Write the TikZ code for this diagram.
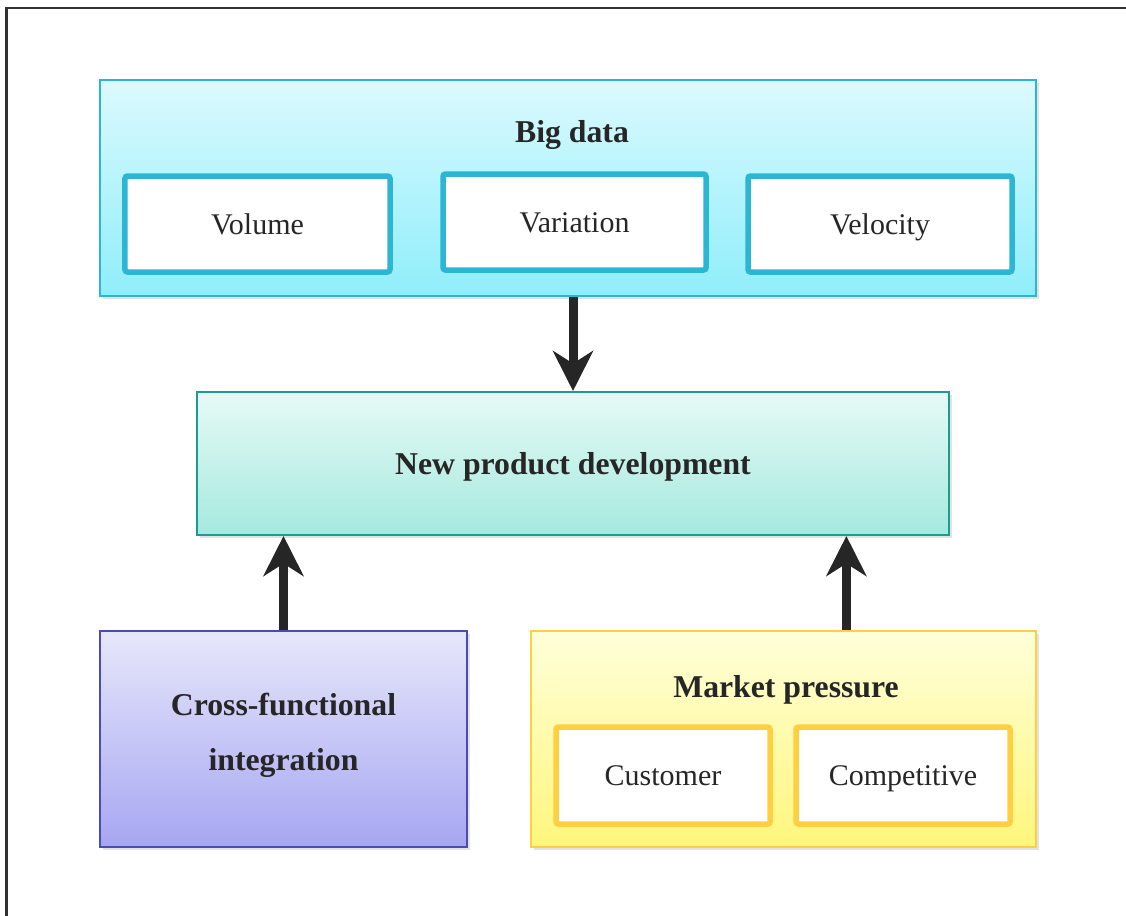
\documentclass[tikz,border=0pt]{standalone}
\usepackage{fontspec}
\setmainfont{Liberation Serif}
\usepackage{tikz}
\usetikzlibrary{positioning,calc,arrows.meta,shadows}
\definecolor{inktext}{HTML}{262626}
\definecolor{bigtop}{HTML}{DBFAFE}
\definecolor{bigbot}{HTML}{8FEEFB}
\definecolor{bigline}{HTML}{2CB6D4}
\definecolor{npdtop}{HTML}{E6FAF6}
\definecolor{npdbot}{HTML}{A5E9DE}
\definecolor{npdline}{HTML}{1A9C92}
\definecolor{cfitop}{HTML}{E7E7FB}
\definecolor{cfibot}{HTML}{A6A6F2}
\definecolor{cfiline}{HTML}{4B4BB4}
\definecolor{mkttop}{HTML}{FFFFDA}
\definecolor{mktbot}{HTML}{FFF67C}
\definecolor{mktline}{HTML}{FFCF3F}

\tikzset{
  softshadow/.style={drop shadow={shadow xshift=1.2pt, shadow yshift=-1.2pt, opacity=0.22}},
  outerbox/.style={rectangle, line width=0.8pt, softshadow, text=inktext},
  innerbox/.style={rectangle, fill=white, line width=2.2pt, rounded corners=1pt,
        text=inktext, font=\fontsize{12}{14}\selectfont,
        text height=8.2pt, text depth=0pt},
  headfont/.style={font=\fontsize{12.7}{15}\selectfont\bfseries},
  headline/.style={headfont, text height=8.7pt, text depth=0pt},
  fatarrow/.style={draw=inktext, line width=3.6pt,
        -{Stealth[length=16pt, width=16pt, inset=5pt]}}
}

\begin{document}
\begin{tikzpicture}[x=0.4pt, y=-0.4pt]
  \useasboundingbox (0,0) rectangle (1126,915);
  % frame
  \draw[line width=0.9pt, draw=inktext!95] (6.5,930) -- (6.5,8) -- (1140,8);

  % big data
  \node[outerbox, draw=bigline, top color=bigtop, bottom color=bigbot,
        minimum width=374.4pt, minimum height=86.4pt] (bigdata) at (568,188) {};
  \node[headline, text=inktext] (bigtitle) at (572,132) {Big data};
  \node[innerbox, draw=bigline, minimum width=106pt, minimum height=38.4pt] (volume) at (257.5,224) {Volume};
  \node[innerbox, draw=bigline, minimum width=105.2pt, minimum height=38.4pt] (variation) at (574.5,222) {Variation};
  \node[innerbox, draw=bigline, minimum width=105.6pt, minimum height=38.4pt] (velocity) at (880,224) {Velocity};

  % new product development
  \node[outerbox, headline, draw=npdline, top color=npdtop, bottom color=npdbot,
        minimum width=300.8pt, minimum height=57.2pt] (npd) at (573,463.5) {New product development};

  % cross-functional integration
  \node[outerbox, draw=cfiline, top color=cfitop, bottom color=cfibot,
        minimum width=146.8pt, minimum height=86.4pt] (cfi) at (283.5,739) {};
  \node[headfont, text=inktext, align=center] (cfitext) at (283.5,735)
        {Cross-functional\\[7pt]integration};

  % market pressure
  \node[outerbox, draw=mktline, top color=mkttop, bottom color=mktbot,
        minimum width=202pt, minimum height=86.4pt] (market) at (783.5,739) {};
  \node[headline, text=inktext] (mkttitle) at (786,687) {Market pressure};
  \node[innerbox, draw=mktline, minimum width=85.6pt, minimum height=38.8pt] (customer) at (663,775.5) {Customer};
  \node[innerbox, draw=mktline, minimum width=85.6pt, minimum height=38.8pt] (competitive) at (903,775.5) {Competitive};

  % arrows
  \coordinate (mktout) at ($(market.north west)!0.624!(market.north east)$);
  \draw[fatarrow] (npd.north |- bigdata.south) -- (npd.north);
  \draw[fatarrow] (cfi.north) -- (cfi.north |- npd.south);
  \draw[fatarrow] (mktout) -- (mktout |- npd.south);
\end{tikzpicture}
\end{document}
